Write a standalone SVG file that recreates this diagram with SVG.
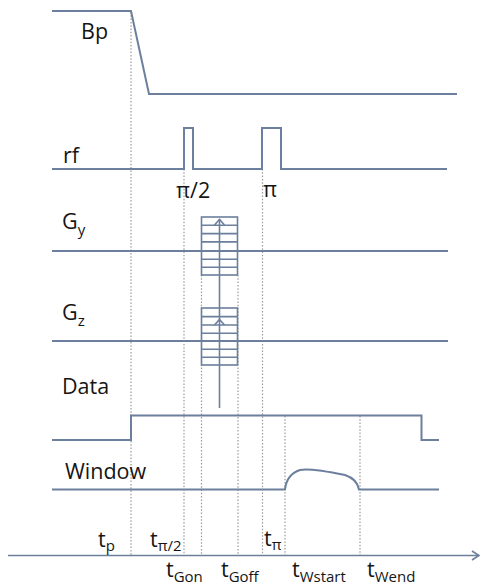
<svg xmlns="http://www.w3.org/2000/svg" width="480" height="587" viewBox="0 0 480 587">
<style>
.tr{fill:none;stroke:#6c7f9c;stroke-width:2;stroke-linejoin:miter}
.th{fill:none;stroke:#6c7f9c;stroke-width:1.6}
.dot{fill:none;stroke:#9a9a9a;stroke-width:1.2;stroke-dasharray:1.5 1.8}
.lb{font-family:"Open Sans","Noto Sans",sans-serif;font-size:21.5px;fill:#151515}
.sb{font-size:15px}
</style>
<rect width="480" height="587" fill="#fff"/>
<g id="guides">
<line class="dot" x1="131" y1="12" x2="131" y2="555"/>
<line class="dot" x1="184" y1="169" x2="184" y2="555"/>
<line class="dot" x1="201.5" y1="275" x2="201.5" y2="555"/>
<line class="dot" x1="238" y1="275" x2="238" y2="555"/>
<line class="dot" x1="262.5" y1="169" x2="262.5" y2="555"/>
<line class="dot" x1="285" y1="416" x2="285" y2="555"/>
<line class="dot" x1="360" y1="416" x2="360" y2="555"/>
</g>
<g id="Bp">
<polyline class="tr" points="52,11 131,11 149,94 457,94"/>
<text class="lb" x="81" y="39">Bp</text>
</g>
<g id="rf">
<polyline class="tr" points="52,169 184,169 184,128 193,128 193,169 262,169 262,128 281,128 281,169 447,169"/>
<text class="lb" x="63" y="163">rf</text>
<text class="lb" x="176" y="198">π/2</text>
<text class="lb" x="263" y="197">π</text>
</g>
<g id="Gy">
<line class="tr" x1="52" y1="251" x2="448" y2="251"/>
<rect class="th" x="201.5" y="217" width="36" height="58"/>
<path class="th" d="M201.5 225.3H237.5M201.5 233.6H237.5M201.5 241.9H237.5M201.5 259.3H237.5M201.5 267.3H237.5"/>
<text class="lb" x="62" y="229">G<tspan class="sb" dy="6">y</tspan></text>
</g>
<g id="Gz">
<line class="tr" x1="52" y1="341" x2="448" y2="341"/>
<rect class="th" x="201.5" y="308" width="36" height="57"/>
<path class="th" d="M201.5 316.6H237.5M201.5 325H237.5M201.5 333.3H237.5M201.5 349.3H237.5M201.5 357.3H237.5"/>
<text class="lb" x="62" y="320">G<tspan class="sb" dy="6">z</tspan></text>
</g>
<g id="connectors">
<line class="th" x1="219.5" y1="408" x2="219.5" y2="219"/>
<polyline class="th" points="214.5,225 219.5,219.5 224.5,225"/>
<polyline class="th" points="214.5,325 219.5,319.5 224.5,325"/>
</g>
<g id="Data">
<polyline class="tr" points="52,440 131,440 131,415.5 421.5,415.5 421.5,440 439,440"/>
<text class="lb" x="62" y="394">Data</text>
</g>
<g id="Window">
<path class="tr" d="M52 489.5H285C286 480 291 473 300 470C310 468 330 472 345 475C354 478 358 484 359 489.5H439"/>
<text class="lb" x="65" y="479">Window</text>
</g>
<g id="axis">
<line class="th" x1="8" y1="555.5" x2="479" y2="555.5"/>
<polyline class="th" points="472,551 479,555.5 472,560"/>
<text class="lb" x="98" y="547">t<tspan class="sb" dy="4">p</tspan></text>
<text class="lb" x="150" y="547">t<tspan class="sb" dy="4">π/2</tspan></text>
<text class="lb" x="166" y="577">t<tspan class="sb" dy="5">Gon</tspan></text>
<text class="lb" x="221" y="577">t<tspan class="sb" dy="5">Goff</tspan></text>
<text class="lb" x="264" y="546">t<tspan class="sb" dy="4">π</tspan></text>
<text class="lb" x="292" y="577">t<tspan class="sb" dy="5">Wstart</tspan></text>
<text class="lb" x="367" y="577">t<tspan class="sb" dy="5">Wend</tspan></text>
</g>
</svg>
